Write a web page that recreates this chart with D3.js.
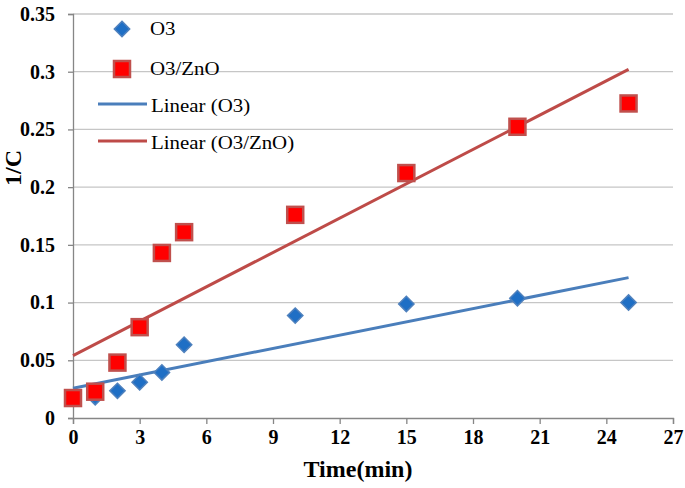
<!DOCTYPE html>
<html><head><meta charset="utf-8">
<script src="https://cdn.jsdelivr.net/npm/d3@7"></script>
<style>body{margin:0;background:#fff}svg{display:block}</style>
</head><body>
<script>
const times = [0, 1, 2, 3, 4, 5, 10, 15, 20, 25];
const o3 = [0.017, 0.018, 0.0235, 0.031, 0.0395, 0.0635, 0.0887, 0.0988, 0.1038, 0.1];
const o3zno = [0.0173, 0.0228, 0.048, 0.0787, 0.143, 0.161, 0.176, 0.2122, 0.2523, 0.2725];
const xTicks = [0, 3, 6, 9, 12, 15, 18, 21, 24, 27];
const yTicks = [0, 0.05, 0.1, 0.15, 0.2, 0.25, 0.3, 0.35];
const yTickLabels = ["0", "0.05", "0.1", "0.15", "0.2", "0.25", "0.3", "0.35"];
const legendLabels = ["O3", "O3/ZnO", "Linear (O3)", "Linear (O3/ZnO)"];

const W = 685, H = 488;
const m = {left: 73, right: 12, top: 14, bottom: 70};
const svg = d3.select("body").append("svg").attr("width", W).attr("height", H);
const x = d3.scaleLinear().domain([0, 27]).range([m.left, W - m.right]);
const y = d3.scaleLinear().domain([0, 0.35]).range([H - m.bottom, m.top]);
const font = "'Liberation Serif','Times New Roman',serif";

// gridlines
svg.append("g").selectAll("line").data(yTicks.slice(1)).join("line")
  .attr("x1", x(0)).attr("x2", x(27)).attr("y1", d => y(d)).attr("y2", d => y(d))
  .attr("stroke", "#c6c6c6").attr("stroke-width", 1.3);

// axes
const yAxis = d3.axisLeft(y).tickValues(yTicks).tickSize(5).tickPadding(13)
  .tickFormat((d, i) => yTickLabels[i]);
const gy = svg.append("g").attr("transform", `translate(${x(0)},0)`).call(yAxis);
const xAxis = d3.axisBottom(x).tickValues(xTicks).tickSize(6).tickPadding(6);
const gx = svg.append("g").attr("transform", `translate(0,${y(0)})`).call(xAxis);
[gx, gy].forEach(g => {
  g.select(".domain").attr("stroke", "#868686").attr("stroke-width", 1.3);
  g.selectAll(".tick line").attr("stroke", "#868686").attr("stroke-width", 1.3);
  g.selectAll("text").attr("font-family", font).attr("font-weight", "bold")
    .attr("font-size", 20).attr("fill", "#000");
});

// axis titles
svg.append("text").attr("x", 358).attr("y", 477).attr("text-anchor", "middle")
  .attr("font-family", font).attr("font-weight", "bold").attr("font-size", 24).text("Time(min)");
svg.append("text").attr("transform", `translate(21,168) rotate(-90)`).attr("text-anchor", "middle")
  .attr("font-family", font).attr("font-weight", "bold").attr("font-size", 24).text("1/C");

// linear regression
function fit(xs, ys) {
  const n = xs.length, mx = d3.mean(xs), my = d3.mean(ys);
  let sxy = 0, sxx = 0;
  for (let i = 0; i < n; i++) { sxy += (xs[i] - mx) * (ys[i] - my); sxx += (xs[i] - mx) ** 2; }
  const b = sxy / sxx; return {b, a: my - b * mx};
}
const f1 = fit(times, o3), f2 = fit(times, o3zno);
const xr = d3.extent(times);
const line = d3.line().x(d => x(d[0])).y(d => y(d[1]));
svg.append("path").attr("d", line(xr.map(t => [t, f1.a + f1.b * t])))
  .attr("stroke", "#4a7ebb").attr("stroke-width", 3).attr("fill", "none");
svg.append("path").attr("d", line(xr.map(t => [t, f2.a + f2.b * t])))
  .attr("stroke", "#be4b48").attr("stroke-width", 3).attr("fill", "none");

// markers
const diamond = d3.symbol().type(d3.symbolDiamond2).size(150);
svg.append("g").selectAll("path").data(times).join("path")
  .attr("transform", (d, i) => `translate(${x(d)},${y(o3[i])})`)
  .attr("d", diamond()).attr("fill", "#1f6fc5").attr("stroke", "#4f81bd").attr("stroke-width", 1.5);
svg.append("g").selectAll("rect").data(times).join("rect")
  .attr("x", d => x(d) - 8).attr("y", (d, i) => y(o3zno[i]) - 8)
  .attr("width", 16).attr("height", 16)
  .attr("fill", "#ff0000").attr("stroke", "#c0504d").attr("stroke-width", 2.5);

// legend
const lg = svg.append("g");
const symY = [29, 69, 104, 141];
const baseY = [35, 74.5, 111.5, 148.5];
lg.append("path").attr("transform", `translate(122,${symY[0]})`).attr("d", diamond())
  .attr("fill", "#1f6fc5").attr("stroke", "#4f81bd").attr("stroke-width", 1.5);
lg.append("rect").attr("x", 114).attr("y", symY[1] - 8).attr("width", 16).attr("height", 16)
  .attr("fill", "#ff0000").attr("stroke", "#c0504d").attr("stroke-width", 2.5);
lg.append("line").attr("x1", 98).attr("x2", 147).attr("y1", symY[2]).attr("y2", symY[2])
  .attr("stroke", "#4a7ebb").attr("stroke-width", 3);
lg.append("line").attr("x1", 98).attr("x2", 147).attr("y1", symY[3]).attr("y2", symY[3])
  .attr("stroke", "#be4b48").attr("stroke-width", 3);
lg.selectAll("text").data(legendLabels).join("text")
  .attr("transform", (d, i) => `translate(${i < 2 ? 150 : 151},${baseY[i]}) scale(1.16,1)`)
  .attr("font-family", font).attr("font-size", 18).attr("fill", "#000").text(d => d);
</script>
</body></html>
